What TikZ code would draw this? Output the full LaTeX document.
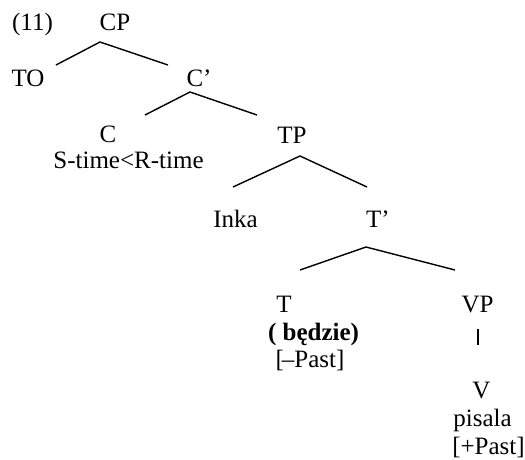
\documentclass[tikz,border=0pt]{standalone}
\usepackage{fontspec}
\setmainfont{Liberation Serif}
\begin{document}
\begin{tikzpicture}[x=1pt,y=-1pt,
  lbl/.style={inner sep=0pt,anchor=base,font=\fontsize{25}{28}\selectfont},
  branch/.style={line width=1.4pt}]
\useasboundingbox (0,0) rectangle (525,459);
% labels
\node[lbl] (ex) at (32.5,30) {(11)};
\node[lbl] (CP) at (115,30) {CP};
\node[lbl] (TO) at (28,86) {TO};
\node[lbl] (Cbar) at (199,86) {C’};
\node[lbl] (C) at (108,142) {C};
\node[lbl] (Cfeat) at (128.5,168) {S-time<R-time};
\node[lbl] (TP) at (292,143) {TP};
\node[lbl] (Inka) at (235.5,227) {Inka};
\node[lbl] (Tbar) at (378,227) {T’};
\node[lbl] (T) at (284,312) {T};
\node[lbl] (Tword) at (313.5,340) {\bfseries ( będzie)};
\node[lbl] (Tfeat) at (310,367) {[\kern-2pt‒Past]};
\node[lbl] (VP) at (477.5,312) {VP};
\node[lbl] (V) at (481.5,398) {V};
\node[lbl] (Vword) at (482.5,426) {pisala};
\node[lbl] (Vfeat) at (488.5,454) {[+Past]};
% branch points
\coordinate (CPa) at (100,42);
\coordinate (CPl) at (56,65);
\coordinate (CPr) at (168,65);
\coordinate (Cba) at (190,92);
\coordinate (Cbl) at (145,115);
\coordinate (Cbr) at (257,115);
\coordinate (TPa) at (300,156);
\coordinate (TPl) at (233,187);
\coordinate (TPr) at (367,187);
\coordinate (Tba) at (366,247);
\coordinate (Tbl) at (300,270);
\coordinate (Tbr) at (455,270);
\coordinate (VPt) at (478,329);
\coordinate (VPb) at (478,345);
% branches
\draw[branch] (CPl) -- (CPa) -- (CPr);
\draw[branch] (Cbl) -- (Cba) -- (Cbr);
\draw[branch] (TPl) -- (TPa) -- (TPr);
\draw[branch] (Tbl) -- (Tba) -- (Tbr);
\draw[branch] (VPt) -- (VPb);
\end{tikzpicture}
\end{document}
